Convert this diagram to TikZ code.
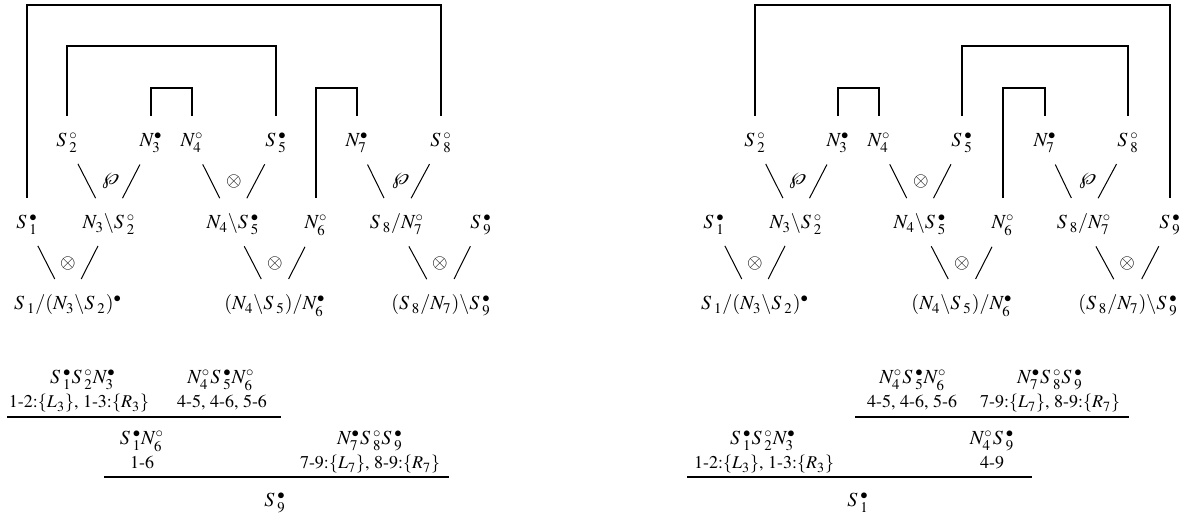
\documentclass[tikz,border=0pt]{standalone}
\usepackage[T1]{fontenc}
\usepackage{mathptmx}
\newcommand{\Sg}{{S\mkern2.5mu}}
\begin{document}
\begin{tikzpicture}[x=0.5pt,y=-0.5pt,
  fm/.style={anchor=base},
  lbl/.style={anchor=base,font=\small},
  link/.style={line width=0.9pt,shorten <=5pt,shorten >=5pt},
  wedge/.style={line width=0.5pt,shorten <=2.5pt,shorten >=5pt},
  rul/.style={line width=0.9pt}]
\useasboundingbox (0,0) rectangle (1187,522);
%left net
\node[fm] (s2a) at (67,147) {$\Sg_2^\circ$};
\node[fm] (n3a) at (151,147) {$N_3^\bullet$};
\node[fm] (n4a) at (192,147) {$N_4^\circ$};
\node[fm] (s5a) at (276,147) {$\Sg_5^\bullet$};
\node[fm] (n7a) at (357,147) {$N_7^\bullet$};
\node[fm] (s8a) at (441,147) {$\Sg_8^\circ$};
\node[fm] (s1a) at (27,229) {$\Sg_1^\bullet$};
\node[fm] (n3s2a) at (109,229) {$N_3\backslash \Sg_2^\circ$};
\node[fm] (n4s5a) at (233,229) {$N_4\backslash \Sg_5^\bullet$};
\node[fm] (n6a) at (316,229) {$N_6^\circ$};
\node[fm] (s8n7a) at (397,229) {$\Sg_8/N_7^\circ$};
\node[fm] (s9a) at (481,229) {$\Sg_9^\bullet$};
\node[fm] (ca) at (68,310) {$\Sg_1/(N_3\backslash \Sg_2)^\bullet$};
\node[fm] (cb) at (275,310) {$(N_4\backslash \Sg_5)/N_6^\bullet$};
\node[fm] (cc) at (441,310) {$(\Sg_8/N_7)\backslash \Sg_9^\bullet$};
\draw[wedge] (s2a) -- (n3s2a);
\draw[wedge] (n3a) -- (n3s2a);
\node at (110,181) {$\wp$};
\draw[wedge] (n4a) -- (n4s5a);
\draw[wedge] (s5a) -- (n4s5a);
\node at (234,182) {$\otimes$};
\draw[wedge] (n7a) -- (s8n7a);
\draw[wedge] (s8a) -- (s8n7a);
\node at (400,181) {$\wp$};
\draw[wedge] (s1a) -- (ca);
\draw[wedge] (n3s2a) -- (ca);
\node at (68,264) {$\otimes$};
\draw[wedge] (n4s5a) -- (cb);
\draw[wedge] (n6a) -- (cb);
\node at (275,264) {$\otimes$};
\draw[wedge] (s8n7a) -- (cc);
\draw[wedge] (s9a) -- (cc);
\node at (440,264) {$\otimes$};
\draw[link] (s1a.north) -- (s1a.north |- 0,5) -| (s8a.north);
\draw[link] (s2a.north) -- (s2a.north |- 0,46) -| (s5a.north);
\draw[link] (n3a.north) -- (n3a.north |- 0,88) -| (n4a.north);
\draw[link] (n6a.north) -- (n6a.north |- 0,88) -| (n7a.north);
%right net
\node[fm] (s2b) at (755,147) {$\Sg_2^\circ$};
\node[fm] (n3b) at (838,147) {$N_3^\bullet$};
\node[fm] (n4b) at (879,147) {$N_4^\circ$};
\node[fm] (s5b) at (962,147) {$\Sg_5^\bullet$};
\node[fm] (n7b) at (1045,147) {$N_7^\bullet$};
\node[fm] (s8b) at (1128,147) {$\Sg_8^\circ$};
\node[fm] (s1b) at (714,229) {$\Sg_1^\bullet$};
\node[fm] (n3s2b) at (796,229) {$N_3\backslash \Sg_2^\circ$};
\node[fm] (n4s5b) at (920,229) {$N_4\backslash \Sg_5^\bullet$};
\node[fm] (n6b) at (1003,229) {$N_6^\circ$};
\node[fm] (s8n7b) at (1084,229) {$\Sg_8/N_7^\circ$};
\node[fm] (s9b) at (1170,229) {$\Sg_9^\bullet$};
\node[fm] (da) at (755,310) {$\Sg_1/(N_3\backslash \Sg_2)^\bullet$};
\node[fm] (db) at (962,310) {$(N_4\backslash \Sg_5)/N_6^\bullet$};
\node[fm] (dc) at (1128,310) {$(\Sg_8/N_7)\backslash \Sg_9^\bullet$};
\draw[wedge] (s2b) -- (n3s2b);
\draw[wedge] (n3b) -- (n3s2b);
\node at (797,181) {$\wp$};
\draw[wedge] (n4b) -- (n4s5b);
\draw[wedge] (s5b) -- (n4s5b);
\node at (921,182) {$\otimes$};
\draw[wedge] (n7b) -- (s8n7b);
\draw[wedge] (s8b) -- (s8n7b);
\node at (1087,181) {$\wp$};
\draw[wedge] (s1b) -- (da);
\draw[wedge] (n3s2b) -- (da);
\node at (755,264) {$\otimes$};
\draw[wedge] (n4s5b) -- (db);
\draw[wedge] (n6b) -- (db);
\node at (962,264) {$\otimes$};
\draw[wedge] (s8n7b) -- (dc);
\draw[wedge] (s9b) -- (dc);
\node at (1127,264) {$\otimes$};
\draw[link] (s2b.north) -- (s2b.north |- 0,5) -| (s9b.north);
\draw[link] (s5b.north) -- (s5b.north |- 0,46) -| (s8b.north);
\draw[link] (n3b.north) -- (n3b.north |- 0,88) -| (n4b.north);
\draw[link] (n6b.north) -- (n6b.north |- 0,88) -| (n7b.north);
%left proof
\node[fm] (pa1) at (83,384) {$\Sg_1^\bullet \Sg_2^\circ N_3^\bullet$};
\node[lbl] (pa1s) at (79,408) {1-2:$\{L_3\}$, 1-3:$\{R_3\}$};
\node[fm] (pa2) at (221,384) {$N_4^\circ \Sg_5^\bullet N_6^\circ$};
\node[lbl] (pa2s) at (222,408) {4-5, 4-6, 5-6};
\draw[rul] (7,417) -- (281,417);
\node[fm] (pb1) at (142,445) {$\Sg_1^\bullet N_6^\circ$};
\node[lbl] (pb1s) at (142,469) {1-6};
\node[fm] (pb2) at (370,445) {$N_7^\bullet \Sg_8^\circ \Sg_9^\bullet$};
\node[lbl] (pb2s) at (370,469) {7-9:$\{L_7\}$, 8-9:$\{R_7\}$};
\draw[rul] (104,477) -- (449,477);
\node[fm] (pc) at (275,507) {$\Sg_9^\bullet$};
%right proof
\node[fm] (qa1) at (913,384) {$N_4^\circ \Sg_5^\bullet N_6^\circ$};
\node[lbl] (qa1s) at (912,408) {4-5, 4-6, 5-6};
\node[fm] (qa2) at (1050,384) {$N_7^\bullet \Sg_8^\circ \Sg_9^\bullet$};
\node[lbl] (qa2s) at (1050,408) {7-9:$\{L_7\}$, 8-9:$\{R_7\}$};
\draw[rul] (855,417) -- (1129,417);
\node[fm] (qb1) at (763,445) {$\Sg_1^\bullet \Sg_2^\circ N_3^\bullet$};
\node[lbl] (qb1s) at (764,469) {1-2:$\{L_3\}$, 1-3:$\{R_3\}$};
\node[fm] (qb2) at (992,445) {$N_4^\circ \Sg_9^\bullet$};
\node[lbl] (qb2s) at (992,469) {4-9};
\draw[rul] (687,477) -- (1032,477);
\node[fm] (qc) at (858,507) {$\Sg_1^\bullet$};
\end{tikzpicture}
\end{document}
